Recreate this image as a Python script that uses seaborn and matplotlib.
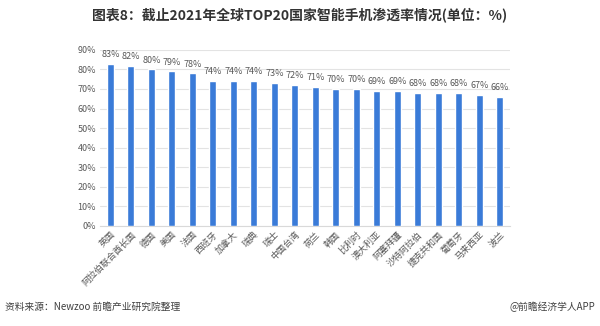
import matplotlib
matplotlib.use("Agg")
import matplotlib.pyplot as plt
import seaborn as sns
import pandas as pd

countries = ["英国", "阿拉伯联合酋长国", "德国", "美国", "法国", "西班牙", "加拿大", "瑞典",
             "瑞士", "中国台湾", "荷兰", "韩国", "比利时", "澳大利亚", "阿塞拜疆",
             "沙特阿拉伯", "捷克共和国", "葡萄牙", "马来西亚", "波兰"]
penetration = [83, 82, 80, 79, 78, 74, 74, 74, 73, 72, 71, 70, 70, 69, 69, 68, 68, 68, 67, 66]
y_ticks = [0, 10, 20, 30, 40, 50, 60, 70, 80, 90]

title = "图表8：截止2021年全球TOP20国家智能手机渗透率情况(单位：%)"
source = "资料来源：Newzoo 前瞻产业研究院整理"
credit = "@前瞻经济学人APP"

sns.set_theme(style="white")
plt.rcParams["font.family"] = ["Noto Sans CJK SC", "DejaVu Sans"]

df = pd.DataFrame({"country": countries, "value": penetration})

fig = plt.figure(figsize=(6.0, 3.26), dpi=100)
ax = fig.add_axes([0.167, 0.307, 0.683, 0.540])

sns.barplot(data=df, x="country", y="value", color="#3a7bd8", width=0.34,
            saturation=1, ax=ax, zorder=3)

ax.set_ylim(0, 90)
ax.set_xlim(-0.5, len(countries) - 0.5)
ax.set_yticks(y_ticks)
ax.set_yticklabels([f"{t}%" for t in y_ticks], fontsize=6.5, color="#595959")
ax.yaxis.grid(True, color="#e3e3e3", linewidth=0.8, zorder=0)
ax.xaxis.grid(False)
for s in ["top", "right", "left"]:
    ax.spines[s].set_visible(False)
ax.spines["bottom"].set_color("#d9d9d9")
ax.spines["bottom"].set_linewidth(0.8)
ax.tick_params(axis="both", length=0, pad=3)
ax.set_xticks(range(len(countries)))
ax.set_xticklabels(countries, rotation=45, ha="right", rotation_mode="anchor",
                   fontsize=6.5, color="#595959")
ax.set_xlabel("")
ax.set_ylabel("")

for i, v in enumerate(penetration):
    ax.text(i, v + 2.4, f"{v}%", ha="center", va="bottom", fontsize=6.5,
            color="#595959")

fig.text(0.5, 0.952, title, ha="center", va="center", fontsize=10,
         fontweight="bold", color="#333333")
fig.text(0.008, 0.058, source, ha="left", va="center", fontsize=7, color="#404040")
fig.text(0.992, 0.058, credit, ha="right", va="center", fontsize=7, color="#404040")

fig.savefig("out.png", dpi=100)
